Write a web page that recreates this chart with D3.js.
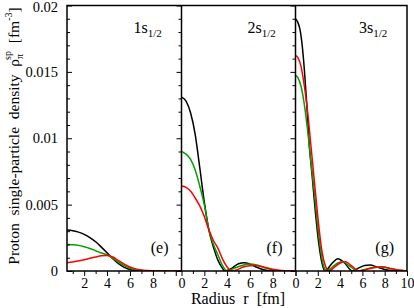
<!DOCTYPE html>
<html>
<head>
<meta charset="utf-8">
<script src="https://cdn.jsdelivr.net/npm/d3@7"></script>
<style>
  body { margin: 0; background: #fff; }
  svg text { font-family: 'Liberation Serif', 'DejaVu Serif', serif !important; }
</style>
</head>
<body>
<div id="chart"></div>
<script>
// panel labels
const orbitals = ['1s', '2s', '3s']
const panelTags = ['(e)', '(f)', '(g)']
const seriesColors = ['#000000', '#00a000', '#ff0000']

// [r (fm), density (fm^-3)]
// panel (e) 1s1/2
const e_black = [[0.5, 0.00308], [1, 0.00304], [1.5, 0.00293], [2, 0.00276], [2.5, 0.00252], [3, 0.0022], [3.5, 0.0018], [4, 0.00137], [4.5, 0.00092], [5, 0.00055], [5.5, 0.00027], [6, 0.00011], [6.5, 0.00004], [7, 0.00001], [8, 0], [10.5, 0]]
const e_green = [[0.5, 0.002], [1, 0.00198], [1.5, 0.00193], [2, 0.00183], [2.5, 0.0017], [3, 0.00153], [3.5, 0.00135], [4, 0.00122], [4.5, 0.00095], [5, 0.00066], [5.5, 0.0004], [6, 0.0002], [6.5, 0.00009], [7, 0.00003], [8, 0], [10.5, 0]]
const e_red = [[0.5, 0.00063], [1, 0.00068], [1.5, 0.00076], [2, 0.00085], [2.5, 0.00096], [3, 0.00106], [3.5, 0.00114], [4, 0.00116], [4.5, 0.00105], [5, 0.00078], [5.5, 0.00052], [6, 0.0003], [6.5, 0.00016], [7, 0.00008], [7.5, 0.00003], [8.5, 0], [10.5, 0]]

// panel (f) 2s1/2
const f_black = [[0, 0.0131], [0.4, 0.0128], [0.8, 0.0119], [1.2, 0.0103], [1.6, 0.0078], [2, 0.0052], [2.4, 0.0031], [2.8, 0.0018], [3.2, 0.0008], [3.6, 0.0002], [3.8, 0], [4.4, 0.0002], [5, 0.00055], [5.5, 0.00063], [6, 0.00052], [6.6, 0.00028], [7.2, 0.0001], [8, 0], [10, 0]]
const f_green = [[0, 0.009], [0.4, 0.0088], [0.8, 0.0084], [1.2, 0.0076], [1.6, 0.0064], [2, 0.005], [2.4, 0.0031], [2.8, 0.002], [3.2, 0.0012], [3.6, 0.0004], [4, 0], [4.6, 0.0002], [5.3, 0.00042], [6, 0.00052], [6.6, 0.00045], [7.3, 0.00025], [8, 0.0001], [8.8, 0], [10, 0]]
const f_red = [[0, 0.0064], [0.4, 0.0063], [0.8, 0.006], [1.2, 0.0055], [1.6, 0.0049], [2, 0.0041], [2.4, 0.0031], [2.8, 0.0023], [3.2, 0.0017], [3.6, 0.0009], [4, 0.0003], [4.4, 0], [4.9, 0.0001], [5.4, 0.0003], [6, 0.0004], [6.5, 0.00042], [7.2, 0.0003], [8, 0.00013], [8.8, 0.00004], [10, 0]]

// panel (g) 3s1/2
const g_black = [[0, 0.019], [0.2, 0.01875], [0.4, 0.0182], [0.6, 0.017], [0.8, 0.0151], [1, 0.0127], [1.2, 0.0099], [1.5, 0.0071], [1.8, 0.0043], [2.1, 0.002], [2.4, 0.0005], [2.65, 0], [3.2, 0.0005], [3.8, 0.00093], [4.4, 0.0006], [5.1, 0], [5.6, 0.0002], [6.2, 0.00042], [6.7, 0.00046], [7.3, 0.0003], [8, 0.00012], [8.8, 0.00003], [10, 0]]
const g_green = [[0, 0.01474], [0.2, 0.01458], [0.5, 0.0139], [0.8, 0.0125], [1.1, 0.0105], [1.4, 0.0081], [1.7, 0.0058], [2, 0.0033], [2.3, 0.0013], [2.55, 0.0003], [2.8, 0], [3.3, 0.0003], [3.8, 0.0006], [4.25, 0.0007], [4.8, 0.0004], [5.6, 0], [6.2, 0.00012], [7, 0.00028], [7.7, 0.00032], [8.5, 0.00018], [9.3, 0.00005], [10, 0]]
const g_red = [[0, 0.01624], [0.2, 0.0161], [0.5, 0.0154], [0.8, 0.0139], [1.1, 0.0119], [1.4, 0.0093], [1.7, 0.0067], [2, 0.0041], [2.3, 0.0019], [2.6, 0.0006], [3, 0], [3.5, 0.0003], [4, 0.0006], [4.5, 0.0007], [5, 0.0004], [5.7, 0], [6.3, 0.0001], [7, 0.00025], [7.8, 0.0003], [8.6, 0.00018], [9.4, 0.00005], [10, 0]]

const panelSeries = [[e_black, e_green, e_red], [f_black, f_green, f_red], [g_black, g_green, g_red]]
const xDomains = [[0.5, 10.5], [0, 10], [0, 10]]
const xLabelTicks = [[2, 4, 6, 8], [0, 2, 4, 6, 8], [0, 2, 4, 6, 8, 10]]
const yTicks = [0, 0.005, 0.01, 0.015, 0.02]

const width = 414, height = 308
const plotTop = 5.5, plotBottom = 271
const edges = [67, 181.5, 295.5, 407]

const svg = d3.select('#chart').append('svg')
    .attr('width', width)
    .attr('height', height)

const y = d3.scaleLinear().domain([0, 0.02]).range([plotBottom, plotTop])

panelSeries.forEach((series, i) => {
    const x = d3.scaleLinear().domain(xDomains[i]).range([edges[i], edges[i + 1]])
    const g = svg.append('g')

    g.append('clipPath').attr('id', 'clip' + i)
        .append('rect')
        .attr('x', edges[i]).attr('y', plotTop)
        .attr('width', edges[i + 1] - edges[i]).attr('height', plotBottom - plotTop)

    const line = d3.line()
        .x(d => x(d[0]))
        .y(d => y(d[1]))
        .curve(d3.curveMonotoneX)

    // curves
    g.append('g').attr('clip-path', `url(#clip${i})`)
        .selectAll('path')
        .data(series)
        .join('path')
        .attr('d', line)
        .attr('fill', 'none')
        .attr('stroke', (d, k) => seriesColors[k])
        .attr('stroke-width', 1.5)

    // x minor ticks
    const minor = d3.range(Math.ceil(xDomains[i][0]), Math.floor(xDomains[i][1]) + 1)
    g.append('g')
        .attr('transform', `translate(0,${plotBottom})`)
        .call(d3.axisBottom(x).tickValues(minor.filter(v => v % 2 !== 0)).tickSize(3).tickFormat(''))
        .call(a => a.select('.domain').remove())

    // x major ticks + labels
    g.append('g')
        .attr('transform', `translate(0,${plotBottom})`)
        .call(d3.axisBottom(x).tickValues(minor.filter(v => v % 2 === 0)).tickSize(5).tickPadding(2)
            .tickFormat(v => xLabelTicks[i].includes(v) ? v : ''))
        .call(a => a.select('.domain').remove())
        .call(a => a.selectAll('text').attr('font-size', 14))

    // panel labels
    const lab = g.append('text')
        .attr('x', x.range()[1] - 48)
        .attr('y', 33)
        .attr('font-size', 16)
    lab.append('tspan').text(orbitals[i])
    lab.append('tspan').attr('font-size', 11).attr('dy', 4).text('1/2')

    g.append('text')
        .attr('x', x.range()[1] - 13)
        .attr('y', 253)
        .attr('text-anchor', 'end')
        .attr('font-size', 16)
        .text(panelTags[i])
})

// y ticks: leftmost axis points inward, dividers carry ticks on their left
const yMinor = d3.range(0, 21).map(v => v / 1000).filter(v => Math.round(v * 1000) % 5 !== 0)

const yLeft = svg.append('g').attr('transform', `translate(${edges[0]},0)`)
yLeft.call(d3.axisLeft(y).tickValues(yMinor).tickSize(-3).tickFormat(''))
    .call(a => a.select('.domain').remove())
yLeft.append('g')
    .call(d3.axisLeft(y).tickValues(yTicks).tickSize(-5).tickPadding(9).tickFormat(d => d === 0 ? '0' : String(d)))
    .call(a => a.select('.domain').remove())
    .call(a => a.selectAll('text').attr('font-size', 14.5))
    .call(a => a.select('.tick:last-of-type text').attr('dy', '0.4em'))

;[edges[1], edges[2]].forEach(ex => {
    const d = svg.append('g').attr('transform', `translate(${ex},0)`)
    d.call(d3.axisLeft(y).tickValues(yMinor).tickSize(3).tickFormat(''))
        .call(a => a.select('.domain').remove())
    d.append('g').call(d3.axisLeft(y).tickValues(yTicks).tickSize(5).tickFormat(''))
        .call(a => a.select('.domain').remove())
})

// frame
svg.append('rect')
    .attr('x', edges[0]).attr('y', plotTop)
    .attr('width', edges[3] - edges[0]).attr('height', plotBottom - plotTop)
    .attr('fill', 'none').attr('stroke', '#000').attr('stroke-width', 1.5)
svg.selectAll('line.divider')
    .data([edges[1], edges[2]])
    .join('line')
    .attr('class', 'divider')
    .attr('x1', d => d).attr('x2', d => d)
    .attr('y1', plotTop).attr('y2', plotBottom)
    .attr('stroke', '#000').attr('stroke-width', 1.5)

// axis titles
svg.append('text')
    .attr('x', 238).attr('y', 304)
    .attr('text-anchor', 'middle')
    .attr('font-size', 16)
    .style('white-space', 'pre')
    .text('Radius  r  [fm]')

const yt = svg.append('text')
    .attr('transform', 'translate(19,136) rotate(-90)')
    .attr('text-anchor', 'middle')
    .attr('font-size', 15.5)
    .style('white-space', 'pre')
yt.append('tspan').text('Proton  single-particle  density  ρ')
yt.append('tspan').attr('font-size', 10).attr('dy', 4).text('π')
yt.append('tspan').attr('font-size', 10).attr('dx', -6).attr('dy', -12).text('sp')
yt.append('tspan').attr('dy', 8).text('  [fm')
yt.append('tspan').attr('font-size', 10).attr('dy', -7).text('-3')
yt.append('tspan').attr('dy', 7).text(']')
</script>
</body>
</html>
